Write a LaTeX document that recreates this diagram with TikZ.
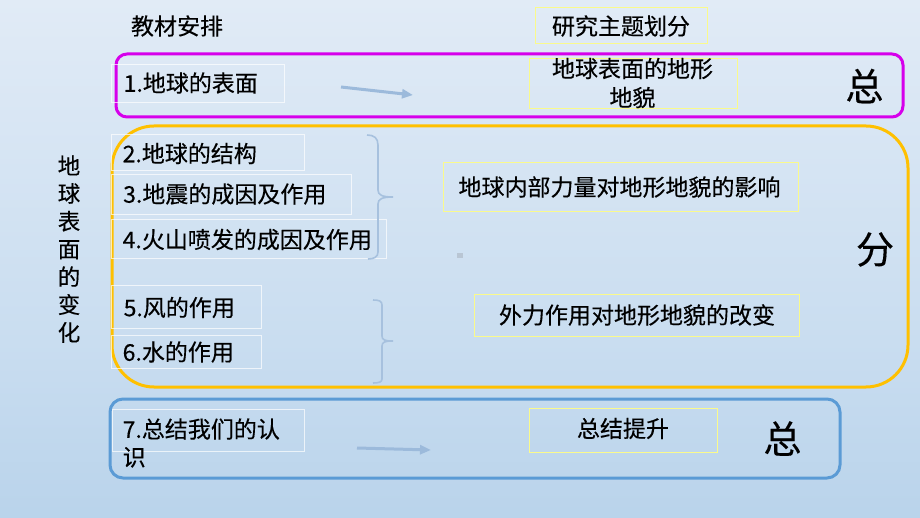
\documentclass[tikz,border=0pt]{standalone}
\usepackage{fontspec}
\setmainfont[FakeBold=0.3]{Noto Sans CJK SC}
\usetikzlibrary{arrows.meta}
\definecolor{bgA}{HTML}{F5F8FC}
\definecolor{bgB}{HTML}{E1EBF6}
\definecolor{bgC}{HTML}{C9DDF0}
\definecolor{bgD}{HTML}{B4D0E9}
\definecolor{bgE}{HTML}{C8DCF0}
\pgfdeclareverticalshading{bgshade}{100bp}{color(0bp)=(bgE); color(19bp)=(bgD); color(42bp)=(bgC); color(75bp)=(bgB); color(100bp)=(bgA)}
\definecolor{magentaline}{RGB}{214,0,235}
\definecolor{goldline}{HTML}{FFC000}
\definecolor{blueline}{HTML}{5B9BD5}
\definecolor{yellowline}{RGB}{250,250,140}
\definecolor{arrowblue}{HTML}{9CBADB}
\definecolor{bracecol}{HTML}{A7C1DE}
\definecolor{dotgrey}{HTML}{B9C6D4}
\begin{document}
\begin{tikzpicture}[x=1pt,y=-1pt,
  frame/.style={draw, line width=3pt, anchor=north west, inner sep=0pt, outer sep=0pt},
  item/.style={draw=white, draw opacity=0.7, line width=0.8pt, anchor=north west, inner sep=0pt, outer sep=0pt},
  ybox/.style={draw=yellowline, line width=0.9pt, anchor=north west, inner sep=0pt, outer sep=0pt},
  label/.style={anchor=west, inner sep=0pt, font=\fontsize{23}{28}\selectfont, align=left},
  ytext/.style={inner sep=0pt, font=\fontsize{23}{29}\selectfont, align=center},
  big/.style={inner sep=0pt, font=\fontsize{38}{40}\selectfont},
  flow/.style={draw=arrowblue, line width=3pt, -{Triangle[length=11pt,width=9pt]}},
  bracket/.style={draw=bracecol, line width=1.6pt}
]
\useasboundingbox (0,0) rectangle (920,518);
\fill[shading=bgshade] (0,0) rectangle (920,518);

% headings
\node[inner sep=0pt, font=\fontsize{23}{28}\selectfont] (h1) at (177,26) {教材安排};
\node[ybox, minimum width=172pt, minimum height=36pt] (y0) at (535,7) {};
\node[ytext] (y0t) at (621,26) {研究主题划分};

% vertical title
\node[inner sep=0pt, font=\fontsize{22.5}{27.8}\selectfont, align=center] (vt) at (69,249) {地\\球\\表\\面\\的\\变\\化};

% group frames
\node[frame, draw=magentaline, rounded corners=11pt, minimum width=787pt, minimum height=63pt] (g1) at (116,54) {};
\node[frame, draw=goldline, rounded corners=42pt, minimum width=796pt, minimum height=261pt] (g2) at (112,126) {};
\node[frame, draw=blueline, rounded corners=13pt, minimum width=730pt, minimum height=79pt] (g3) at (110,399) {};

% item boxes
\node[item, minimum width=173pt, minimum height=38pt] (b1) at (111,64) {};
\node[item, minimum width=193pt, minimum height=36pt] (b2) at (111,134) {};
\node[item, minimum width=240pt, minimum height=40pt] (b3) at (111,174) {};
\node[item, minimum width=275pt, minimum height=39pt] (b4) at (111,219) {};
\node[item, minimum width=150pt, minimum height=43pt] (b5) at (111,285) {};
\node[item, minimum width=150pt, minimum height=33pt] (b6) at (111,335) {};
\node[item, minimum width=192pt, minimum height=42pt] (b7) at (112,409) {};

\node[label] (t1) at (123.5,83) {1.地球的表面};
\node[label] (t2) at (122.5,153.5) {2.地球的结构};
\node[label] (t3) at (123,194) {3.地震的成因及作用};
\node[label] (t4) at (122.5,239.5) {4.火山喷发的成因及作用};
\node[label] (t5) at (123.5,307.5) {5.风的作用};
\node[label] (t6) at (122.5,352) {6.水的作用};
\node[label] (t7) at (122.5,443) {7.总结我们的认\\识};

% topic boxes
\node[ybox, minimum width=208pt, minimum height=50pt] (y1) at (529,58) {};
\node[ytext] (y1t) at (632.5,83) {地球表面的地形\\地貌};
\node[ybox, minimum width=355pt, minimum height=49pt] (y2) at (443,162) {};
\node[ytext] (y2t) at (619.5,187) {地球内部力量对地形地貌的影响};
\node[ybox, minimum width=325pt, minimum height=42pt] (y3) at (474,294) {};
\node[ytext] (y3t) at (637,315) {外力作用对地形地貌的改变};
\node[ybox, minimum width=188pt, minimum height=44pt] (y4) at (529,408) {};
\node[ytext] (y4t) at (623,428.5) {总结提升};

% big marks
\node[big] (k1) at (864.5,86) {总};
\node[big] (k2) at (875,249.5) {分};
\node[big] (k3) at (782.5,438.5) {总};

% arrows
\coordinate (a1s) at (341,87);
\coordinate (a1e) at (413,95);
\draw[flow] (a1s) -- (a1e);
\coordinate (a2s) at (357,448);
\coordinate (a2e) at (431,450);
\draw[flow] (a2s) -- (a2e);

% braces
\draw[bracket] (367,135) .. controls (374,135) and (378,138) .. (378,145) -- (378,190)
  .. controls (378,195) and (382,197) .. (393,197)
  .. controls (382,197) and (378,199) .. (378,204) -- (378,252)
  .. controls (378,257) and (374,259) .. (368,259);
\draw[bracket] (373,300) .. controls (379,300) and (382,301) .. (382,305) -- (382,336)
  .. controls (382,340) and (385,341) .. (393,341)
  .. controls (385,341) and (382,342) .. (382,346) -- (382,379)
  .. controls (382,382) and (379,383) .. (373,383);

% small grey mark
\fill[dotgrey] (457,253) rectangle (463,258);
\end{tikzpicture}
\end{document}
